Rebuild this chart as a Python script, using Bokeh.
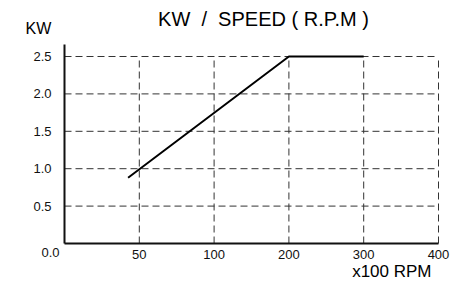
from bokeh.plotting import figure
from bokeh.models import Range1d, FixedTicker, Label
from bokeh.embed import file_html
from bokeh.resources import INLINE

# data
speed_labels = ["50", "100", "200", "300", "400"]
speed_pos = [1, 2, 3, 4, 5]
kw_ticks = [0.5, 1.0, 1.5, 2.0, 2.5]
curve_pos = [0.85, 3.0, 4.0]
curve_kw = [0.88, 2.5, 2.5]
y_top = 2.66

FONT = "Liberation Sans"
GRID = "#333333"
DASH = "7 4"

# frame fills the canvas; axes sit at data 0
p = figure(width=469, height=282, output_backend="svg", toolbar_location=None,
           x_range=Range1d(-64 / 74.8, (469 - 64) / 74.8),
           y_range=Range1d(-(282 - 243) / 74.8, 243 / 74.8),
           min_border=0)
p.title.visible = False
p.outline_line_color = None
p.xgrid.visible = False
p.ygrid.visible = False

# grid lines
p.segment(x0=speed_pos, y0=[0] * len(speed_pos), x1=speed_pos, y1=[max(kw_ticks)] * len(speed_pos),
          line_color=GRID, line_dash=DASH, line_width=1)
p.segment(x0=[0] * len(kw_ticks), y0=kw_ticks, x1=[max(speed_pos)] * len(kw_ticks), y1=kw_ticks,
          line_color=GRID, line_dash=DASH, line_width=1)

p.line(curve_pos, curve_kw, line_color="black", line_width=2)

for ax in (p.xaxis[0], p.yaxis[0]):
    ax.fixed_location = 0
    ax.axis_line_color = "#111111"
    ax.axis_line_width = 2
    ax.major_tick_line_color = None
    ax.minor_tick_line_color = None
    ax.major_label_text_font = FONT
    ax.major_label_text_font_size = "13px"
    ax.major_label_text_color = "#111111"

p.xaxis.bounds = (0, max(speed_pos))
p.xaxis.ticker = FixedTicker(ticks=speed_pos)
p.xaxis.major_label_overrides = {pos: lab for pos, lab in zip(speed_pos, speed_labels)}
p.xaxis.major_label_standoff = 0
p.yaxis.bounds = (0, y_top)
p.yaxis.ticker = FixedTicker(ticks=kw_ticks)
p.yaxis.major_label_overrides = {t: f"{t:.1f}" for t in kw_ticks}
p.yaxis.major_label_standoff = 7

p.add_layout(Label(x=50, y=282 - 252, x_units="screen", y_units="screen", text="0.0",
                   text_align="center", text_baseline="middle",
                   text_font=FONT, text_font_size="13px", text_color="#111111"))
p.add_layout(Label(x=431, y=282 - 271, x_units="screen", y_units="screen", text="x100 RPM",
                   text_align="right", text_baseline="middle",
                   text_font=FONT, text_font_size="17px", text_color="black"))
p.add_layout(Label(x=263, y=282 - 18, x_units="screen", y_units="screen",
                   text="KW \u00a0/ \u00a0SPEED ( R.P.M )",
                   text_align="center", text_baseline="middle",
                   text_font=FONT, text_font_size="20px", text_color="black"))
p.add_layout(Label(x=25, y=282 - 28, x_units="screen", y_units="screen", text="KW",
                   text_align="left", text_baseline="middle",
                   text_font=FONT, text_font_size="16px", text_color="black"))

open("out.html", "w").write(file_html(p, INLINE))
